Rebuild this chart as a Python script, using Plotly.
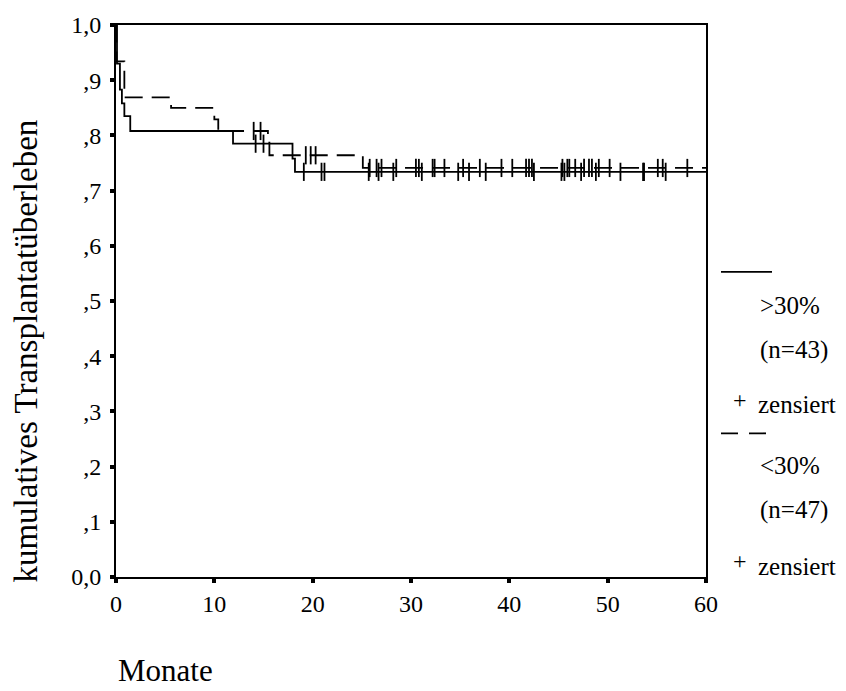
import plotly.graph_objects as go

# ---- data ----
# group ">30%" (n=43), solid line: event times (months) and survival after each step
months_hi = [0.0, 0.1, 0.4, 0.6, 0.85, 1.45, 11.9, 17.95, 18.2]
surv_hi = [1.0, 0.930, 0.883, 0.858, 0.835, 0.808, 0.785, 0.758, 0.734]
censored_hi = [14.2, 15.0, 19.1, 20.9, 21.2, 25.7, 26.7, 28.2, 31.1, 34.8, 35.9,
               37.6, 42.5, 45.3, 45.6, 47.3, 48.8, 51.3, 53.6, 53.7, 55.9]

# group "<30%" (n=47), dashed line
months_lo = [0.0, 0.05, 0.85, 5.6, 10.0, 10.4, 15.45, 15.6, 25.1]
surv_lo = [1.0, 0.934, 0.869, 0.850, 0.829, 0.808, 0.787, 0.764, 0.741]
censored_lo = [14.0, 14.7, 19.3, 19.8, 20.3, 25.8, 26.5, 27.0, 28.5, 30.5, 30.8,
               32.2, 32.4, 33.4, 35.3, 37.0, 39.2, 40.3, 41.7, 42.0, 42.3, 45.4,
               45.9, 46.1, 46.7, 47.6, 48.1, 48.4, 49.1, 50.2, 55.1, 55.6, 58.1]

x_end = 60
x_ticks = [0, 10, 20, 30, 40, 50, 60]
y_ticks = [0.0, 0.1, 0.2, 0.3, 0.4, 0.5, 0.6, 0.7, 0.8, 0.9, 1.0]
y_ticktext = ["0,0", ",1", ",2", ",3", ",4", ",5", ",6", ",7", ",8", ",9", "1,0"]

FONT = "Liberation Serif, Times New Roman, serif"


def surv_at(t, months, surv):
    val = surv[0]
    for m, s in zip(months, surv):
        if m <= t:
            val = s
    return val


fig = go.Figure()

for months, surv, cens, dash in [
    (months_hi, surv_hi, censored_hi, "solid"),
    (months_lo, surv_lo, censored_lo, "18px,9px"),
]:
    xs = list(months) + [x_end]
    ys = list(surv) + [surv[-1]]
    fig.add_trace(go.Scatter(x=xs, y=ys, mode="lines", line_shape="hv",
                             line=dict(color="black", width=1.8, dash=dash),
                             showlegend=False, hoverinfo="skip"))
    fig.add_trace(go.Scatter(x=cens, y=[surv_at(c, months, surv) for c in cens],
                             mode="markers", cliponaxis=False,
                             marker=dict(symbol="line-ns", size=13,
                                         line=dict(color="black", width=1.8)),
                             showlegend=False, hoverinfo="skip"))

fig.update_layout(
    width=846, height=691,
    margin=dict(l=116, r=140, t=16, b=114),
    paper_bgcolor="white", plot_bgcolor="white",
    font=dict(family=FONT, color="black"),
    showlegend=False,
)
fig.update_xaxes(range=[0, x_end], tickvals=x_ticks, ticks="outside", ticklen=4,
                 tickwidth=4, tickcolor="black", showline=True, linewidth=2,
                 linecolor="black", mirror=True, showgrid=False, zeroline=False,
                 tickfont=dict(size=24, family=FONT))
fig.update_yaxes(range=[0, 1], tickvals=y_ticks, ticktext=y_ticktext, ticks="outside",
                 ticklen=4, tickwidth=4, tickcolor="black", showline=True,
                 linewidth=2, linecolor="black", mirror=True, showgrid=False,
                 zeroline=False, tickfont=dict(size=24, family=FONT),
                 ticklabelstandoff=4)

# axis titles
fig.add_annotation(text="kumulatives Transplantatüberleben", xref="paper", yref="paper",
                   x=-0.152, y=0.409, textangle=-90, showarrow=False,
                   font=dict(size=33, family=FONT), xanchor="center", yanchor="middle")
fig.add_annotation(text="Monate", xref="paper", yref="paper", x=0.0, y=-0.169,
                   showarrow=False, font=dict(size=31, family=FONT),
                   xanchor="left", yanchor="middle")

# legend (right side)
def px_x(p):
    return (p - 116) / 590


def px_y(p):
    return (577 - p) / 561


fig.add_shape(type="line", xref="paper", yref="paper", x0=px_x(721), x1=px_x(772),
              y0=px_y(267), y1=px_y(267), line=dict(color="black", width=1.8))
fig.add_shape(type="line", xref="paper", yref="paper", x0=px_x(721), x1=px_x(772),
              y0=px_y(431), y1=px_y(431), line=dict(color="black", width=1.8, dash="17px,11px"))

legend_items = [
    (">30%", 758, 301), ("(n=43)", 758, 346), ("zensiert", 756, 402),
    ("<30%", 758, 464), ("(n=47)", 758, 509), ("zensiert", 756, 566),
]
for txt, lx, ly in legend_items:
    fig.add_annotation(text=txt, xref="paper", yref="paper", x=px_x(lx), y=px_y(ly),
                       showarrow=False, xanchor="left", yanchor="middle",
                       font=dict(size=25, family=FONT))
for ly in [397, 561]:
    fig.add_annotation(text="+", xref="paper", yref="paper", x=px_x(740), y=px_y(ly),
                       showarrow=False, xanchor="center", yanchor="middle",
                       font=dict(size=24, family=FONT))

fig.write_html("out.html")
